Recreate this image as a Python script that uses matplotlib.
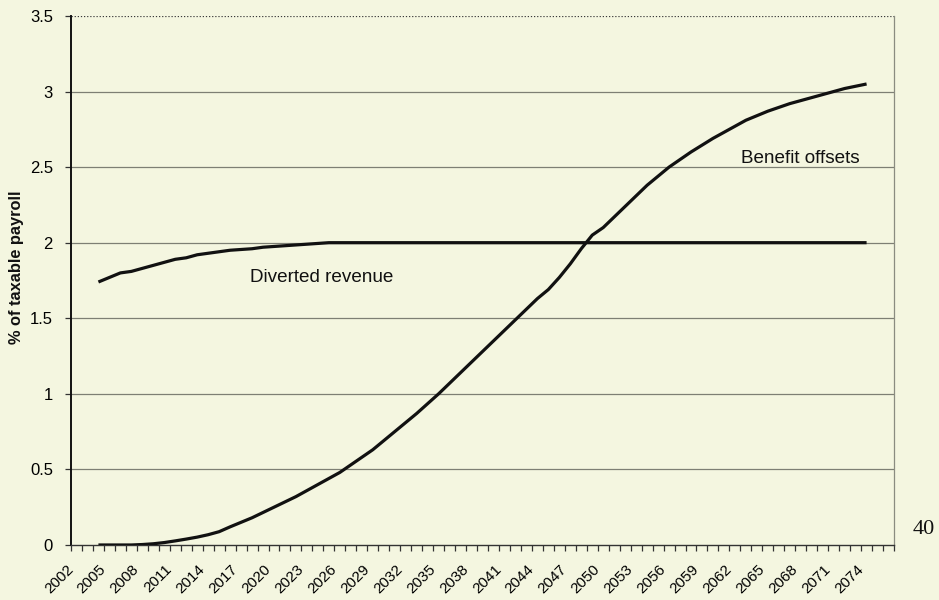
import numpy as np
import matplotlib.pyplot as plt
from matplotlib.ticker import FixedLocator, MultipleLocator

# Datos (% de la nómina gravable)
anios = list(range(2004, 2075))

ingreso_desviado = [
    1.74, 1.77, 1.80, 1.81, 1.83, 1.85, 1.87, 1.89, 1.90, 1.92,
    1.93, 1.94, 1.95, 1.955, 1.96, 1.97, 1.975, 1.98, 1.985, 1.99,
    1.995, 2.0, 2.0, 2.0, 2.0, 2.0, 2.0, 2.0, 2.0, 2.0,
    2.0, 2.0, 2.0, 2.0, 2.0, 2.0, 2.0, 2.0, 2.0, 2.0,
    2.0, 2.0, 2.0, 2.0, 2.0, 2.0, 2.0, 2.0, 2.0, 2.0,
    2.0, 2.0, 2.0, 2.0, 2.0, 2.0, 2.0, 2.0, 2.0, 2.0,
    2.0, 2.0, 2.0, 2.0, 2.0, 2.0, 2.0, 2.0, 2.0, 2.0,
    2.0,
]

compensacion_beneficios = [
    0.0, 0.0, 0.0, 0.0, 0.003, 0.008, 0.016, 0.027, 0.039, 0.052,
    0.068, 0.088, 0.12, 0.15, 0.18, 0.215, 0.25, 0.285, 0.32, 0.36,
    0.40, 0.44, 0.48, 0.53, 0.58, 0.63, 0.69, 0.75, 0.81, 0.87,
    0.935, 1.0, 1.07, 1.14, 1.21, 1.28, 1.35, 1.42, 1.49, 1.56,
    1.63, 1.69, 1.77, 1.86, 1.96, 2.05, 2.10, 2.17, 2.24, 2.31,
    2.38, 2.44, 2.50, 2.55, 2.60, 2.645, 2.69, 2.73, 2.77, 2.81,
    2.84, 2.87, 2.895, 2.92, 2.94, 2.96, 2.98, 3.00, 3.02, 3.035,
    3.05,
]

etiquetas_x = list(range(2002, 2075, 3))
ticks_y = [0, 0.5, 1, 1.5, 2, 2.5, 3, 3.5]

fondo = '#f4f6e0'
plt.rcParams['font.family'] = ['Liberation Sans', 'DejaVu Sans']

fig = plt.figure(figsize=(9.39, 6.0), dpi=100, facecolor=fondo)
ax = fig.add_axes([0.0756, 0.0917, 0.8765, 0.8817], facecolor=fondo)

# gridlines horizontales
for v in ticks_y[1:-1]:
    ax.axhline(v, color='#7d7f74', lw=0.9, zorder=1)
ax.axhline(3.5, color='#3a3a3a', lw=0.9, ls=(0, (1, 1.5)), zorder=1)

ax.plot(anios, ingreso_desviado, color='#111111', lw=2.3, zorder=3,
        solid_capstyle='butt')
ax.plot(anios, compensacion_beneficios, color='#111111', lw=2.3, zorder=3,
        solid_capstyle='butt')

ax.text(2024.3, 1.767, 'Diverted revenue', fontsize=13.6, color='#111111',
        ha='center', va='center')
ax.text(2068.0, 2.56, 'Benefit offsets', fontsize=13.6, color='#111111',
        ha='center', va='center')

ax.set_xlim(2001.5, 2076.5)
ax.set_ylim(0, 3.5)

ax.xaxis.set_major_locator(FixedLocator([a - 0.5 for a in etiquetas_x]))
ax.xaxis.set_minor_locator(MultipleLocator(1, offset=0.5))
ax.set_xticklabels([str(a) for a in etiquetas_x], rotation=45, ha='right',
                   va='center', rotation_mode='anchor', fontsize=11)
ax.tick_params(axis='x', which='both', direction='out', length=4, width=0.9,
               color='#333333', pad=12)

ax.set_yticks(ticks_y)
ax.set_yticklabels(['0', '0.5', '1', '1.5', '2', '2.5', '3', '3.5'], fontsize=12)
ax.tick_params(axis='y', direction='out', length=4, width=0.9, color='#333333',
               pad=9)

ax.spines['left'].set_color('#111111')
ax.spines['left'].set_linewidth(1.4)
ax.spines['bottom'].set_color('#333333')
ax.spines['bottom'].set_linewidth(1.0)
ax.spines['right'].set_color('#8a8c80')
ax.spines['right'].set_linewidth(0.9)
ax.spines['top'].set_visible(False)

fig.text(16.5 / 939, 1 - 267 / 600, '% of taxable payroll', rotation=90,
         ha='center', va='center', fontsize=11.8, fontweight='bold',
         color='#111111')

fig.text(924 / 939, 1 - 530 / 600, '40', ha='center', va='center', fontsize=16,
         family=['Liberation Serif', 'DejaVu Serif'], color='#111111')

fig.savefig('out.png', dpi=100, facecolor=fondo)
